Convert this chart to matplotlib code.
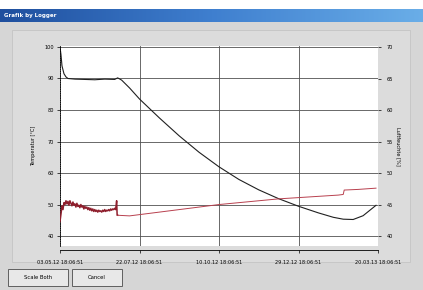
import matplotlib.pyplot as plt
from matplotlib.patches import Rectangle
from matplotlib.colors import LinearSegmentedColormap
import numpy as np

# data (x in days since first sample)
tick_days = [0, 80, 160, 240, 320]
tick_labels = ["03.05.12 18:06:51", "22.07.12 18:06:51", "10.10.12 18:06:51",
               "29.12.12 18:06:51", "20.03.13 18:06:51"]

temp_days = [0, 1, 2, 4, 6, 8, 15, 25, 35, 45, 55, 58, 62, 70, 80, 100, 120, 140,
             160, 180, 200, 220, 240, 260, 275, 285, 295, 305, 318]
temp_vals = [100, 97.5, 94, 91.5, 90.5, 90.0, 89.8, 89.7, 89.6, 89.8, 89.7, 90.2,
             89.5, 87.0, 83.5, 77.5, 71.8, 66.6, 62.0, 58.0, 54.7, 51.9, 49.5,
             47.4, 46.0, 45.4, 45.3, 46.5, 49.8]

hum_days = list(range(0, 57)) + [57, 57.5, 58, 70, 80, 100, 120, 140, 160, 180, 200,
                                  220, 240, 260, 280, 285, 286, 300, 318]
hum_vals = [42.3, 43.5, 44.8, 44.2, 45.3, 45.0, 45.6, 45.1, 45.5, 44.9,
            45.6, 45.2, 44.8, 45.4, 44.9, 45.1, 44.6, 45.2, 44.7, 44.9,
            44.5, 45.0, 44.6, 44.8, 44.3, 44.7, 44.4, 44.6, 44.2, 44.5,
            44.1, 44.4, 44.0, 44.3, 43.9, 44.2, 43.9, 44.1, 43.8, 44.1,
            43.9, 44.0, 43.8, 44.1, 43.9, 44.2, 43.9, 44.1, 44.0, 44.2,
            44.0, 44.3, 44.1, 44.3, 44.2, 44.4, 44.2,
            45.6, 43.3, 43.3, 43.2, 43.4, 43.8, 44.2, 44.6, 45.0, 45.3, 45.6,
            45.9, 46.1, 46.3, 46.5, 46.6, 47.3, 47.4, 47.6]

left_ticks = [40, 50, 60, 70, 80, 90, 100]
right_ticks = [40, 45, 50, 55, 60, 65, 70]

W, H = 423, 290
fig = plt.figure(figsize=(W / 100, H / 100), dpi=100)
fig.patch.set_facecolor("white")

# window background and title bar
fig.patches.append(Rectangle((0, 0), 1, 1 - 22 / H, transform=fig.transFigure,
                             facecolor="#d6d6d6", edgecolor="none", zorder=-10))
fig.patches.append(Rectangle((12 / W, 1 - 262 / H), 398 / W, 232 / H, transform=fig.transFigure,
                             facecolor="#dcdcdc", edgecolor="#c4c4c4", lw=0.6, zorder=-9))
grad = np.linspace(0, 1, 256).reshape(1, -1)
bar = fig.add_axes([0, 1 - 22 / H, 1, 13 / H])
bar.imshow(grad, aspect="auto", cmap=LinearSegmentedColormap.from_list(
    "tb", ["#1f4f9e", "#3f7fcf", "#6aaee8"]), extent=[0, 1, 0, 1])
bar.axis("off")
bar.text(0.01, 0.5, "Grafik by Logger", color="white", fontsize=4, fontweight="bold",
         va="center", ha="left")

# plot area: x 60..378 px, y 46..246 px
ax = fig.add_axes([60 / W, 1 - 246 / H, 318 / W, 200 / H])
ax.set_facecolor("white")
ax.plot(temp_days, temp_vals, color="#202020", lw=0.8)
ax.set_xlim(0, 318)
ax.set_ylim(36.9, 100.3)
ax.spines["bottom"].set_position(("outward", 3))
ax.set_yticks(left_ticks)
ax.set_xticks(tick_days)
ax.set_xticklabels(tick_labels)
ax.grid(True, color="#505050", lw=0.6)
ax.tick_params(length=2, width=0.5, pad=2, labelsize=3.6)
ax.tick_params(axis="x", pad=5)
ax.set_ylabel("Temperatur [°C]", fontsize=3.6, labelpad=6)
for s in ["top", "right"]:
    ax.spines[s].set_visible(False)
ax.spines["left"].set_linestyle(":")
ax.spines["left"].set_linewidth(0.6)
ax.spines["bottom"].set_linewidth(0.6)

ax2 = ax.twinx()
ax2.plot(hum_days[:60], hum_vals[:60], color="#8e1e2c", lw=1.1)
ax2.plot(hum_days[59:], hum_vals[59:], color="#b8404e", lw=0.7)
ax2.set_ylim(40 - 30 * (10 / 190), 70 + 30 * (1 / 190))
ax2.set_yticks(right_ticks)
ax2.tick_params(length=2, width=0.5, pad=4, labelsize=3.6)
ax2.set_ylabel("Luftfeuchte [%]", fontsize=3.6, labelpad=6, rotation=270)
for s in ["top", "left", "bottom", "right"]:
    ax2.spines[s].set_visible(False)

# buttons
for x0, w, label in [(8, 60, "Scale Both"), (72, 50, "Cancel")]:
    fig.patches.append(Rectangle((x0 / W, 1 - 286 / H), w / W, 17 / H,
                                 transform=fig.transFigure, facecolor="#e8e8e8",
                                 edgecolor="#606060", lw=0.7))
    fig.text((x0 + w / 2) / W, 1 - 277.5 / H, label, fontsize=3.8, ha="center", va="center")

fig.savefig("out.png", dpi=100)
